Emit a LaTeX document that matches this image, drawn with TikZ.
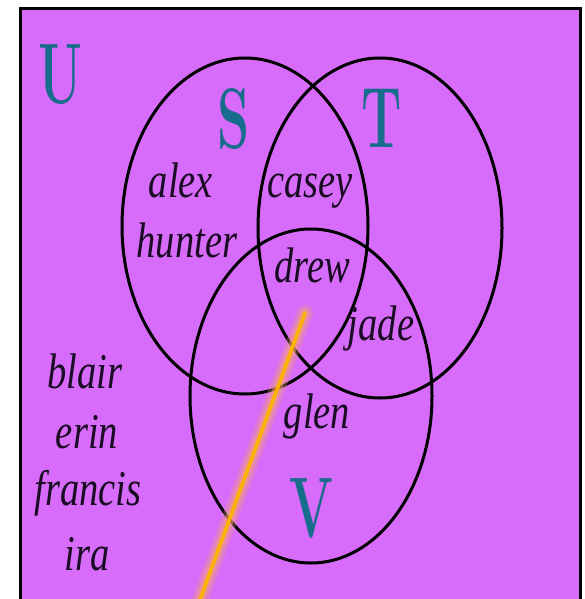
\documentclass[tikz,border=0pt]{standalone}
\usepackage{fontspec}
\usepackage{graphicx}
\newfontfamily\namefont{Liberation Serif}
\definecolor{bgp}{RGB}{215,107,250}
\definecolor{lettc}{RGB}{24,108,140}
\definecolor{namec}{RGB}{25,12,35}
\definecolor{orng}{RGB}{255,178,0}
\definecolor{glowc}{RGB}{245,165,110}
\newcommand{\nmsq}[1]{\scalebox{0.77}[1]{#1}}
\newcommand{\ltsq}[1]{\scalebox{0.6}[1]{#1}}
\begin{document}
\begin{tikzpicture}[x=1pt,y=-1pt,
  nm/.style={anchor=base, inner sep=0, text=namec, font=\namefont\fontsize{50}{50}\selectfont\itshape},
  big/.style={anchor=base, inner sep=0, text=lettc, font=\fontsize{86}{86}\selectfont\bfseries},
  setline/.style={line width=3pt, draw=black}]
\useasboundingbox (0,0) rectangle (584,599);
\clip (0,0) rectangle (584,599);
\fill[white] (0,0) rectangle (584,599);
\draw[fill=bgp, line width=3pt] (20,9) rectangle (580,612);
% sets
\draw[setline] (245,226) ellipse [x radius=123, y radius=168];
\draw[setline] (380,228) ellipse [x radius=122, y radius=170];
\draw[setline] (311,396) ellipse [x radius=121, y radius=167];
% set letters
\node[big] (U) at (60,103) {\scalebox{0.59}[1]{U}};
\node[big] (S) at (234,148) {\ltsq{S}};
\node[big] (T) at (382,147) {\ltsq{T}};
\node[big] (V) at (311,537) {\ltsq{V}};
% names
\node[nm] (alex) at (181,197) {\nmsq{alex}};
\node[nm] (hunter) at (187,257) {\nmsq{hunter}};
\node[nm] (casey) at (310,197) {\nmsq{casey}};
\node[nm] (drew) at (312,282) {\nmsq{drew}};
\node[nm] (jade) at (381,340) {\nmsq{jade}};
\node[nm] (glen) at (317,428) {\nmsq{glen}};
\node[nm] (blair) at (85,388) {\nmsq{blair}};
\node[nm] (erin) at (87,448) {\nmsq{erin}};
\node[nm] (francis) at (88,505) {\nmsq{francis}};
\node[nm] (ira) at (87,570) {\nmsq{ira}};
% pointer line with glow
\coordinate (ptop) at (305,313);
\coordinate (pbot) at (197,608);
\draw[glowc, opacity=0.3, line width=16pt, line cap=round] (ptop) -- (pbot);
\draw[glowc, opacity=0.5, line width=9pt, line cap=round] (ptop) -- (pbot);
\draw[orng, line width=3.5pt, line cap=round] (ptop) -- (pbot);
\end{tikzpicture}
\end{document}
